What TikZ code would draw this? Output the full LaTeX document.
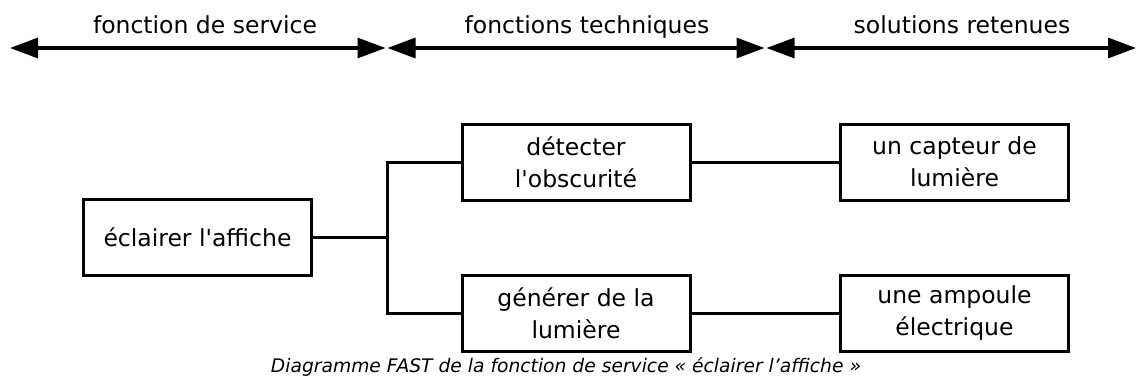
\documentclass[tikz,border=0pt]{standalone}
\usepackage{fontspec}
\setmainfont{DejaVu Sans}[Ligatures=TeXOff]
\usetikzlibrary{arrows.meta}
\begin{document}
\begin{tikzpicture}[x=1pt,y=-1pt,
  txt/.style={font=\fontsize{23.5}{32}\selectfont},
  fbox/.style={txt,draw,line width=3pt,minimum width=228pt,minimum height=76pt,
               inner sep=0pt,align=center},
  link/.style={line width=3pt},
  span/.style={line width=3.2pt,{Triangle[length=28pt,width=20pt]}-{Triangle[length=28pt,width=20pt]}}]
\useasboundingbox (0,0) rectangle (1136,381);

% section headers
\coordinate (s0) at (10,48);
\coordinate (s1) at (385.5,48);
\coordinate (s2) at (387.5,48);
\coordinate (s3) at (764.5,48);
\coordinate (s4) at (766.5,48);
\coordinate (s5) at (1136,48);
\draw[span] (s0) -- (s1);
\draw[span] (s2) -- (s3);
\draw[span] (s4) -- (s5);
\node[txt,anchor=base] (h1) at (205,33) {fonction de service};
\node[txt,anchor=base] (h2) at (587,33) {fonctions techniques};
\node[txt,anchor=base] (h3) at (962,33) {solutions retenues};

% FAST tree
\node[fbox] (A) at (197.5,237.5) {éclairer l'affiche};
\node[fbox] (B) at (576,162) {détecter\\l'obscurité};
\node[fbox] (C) at (576,313.5) {générer de la\\lumière};
\node[fbox] (D) at (954.5,162) {un capteur de\\lumière};
\node[fbox] (E) at (954.5,313.5) {une ampoule\\électrique};
\coordinate (J) at (387,237.5);

\draw[link] (A.east) -- (J);
\draw[link] (B.west) -| (J) |- (C.west);
\draw[link] (B.east) -- (D.west);
\draw[link] (C.east) -- (E.west);

% caption
\node[font=\fontsize{18.7}{22}\selectfont\itshape,anchor=base] (cap) at (566,372)
  {Diagramme FAST de la fonction de service « éclairer l’affiche »};
\end{tikzpicture}
\end{document}
